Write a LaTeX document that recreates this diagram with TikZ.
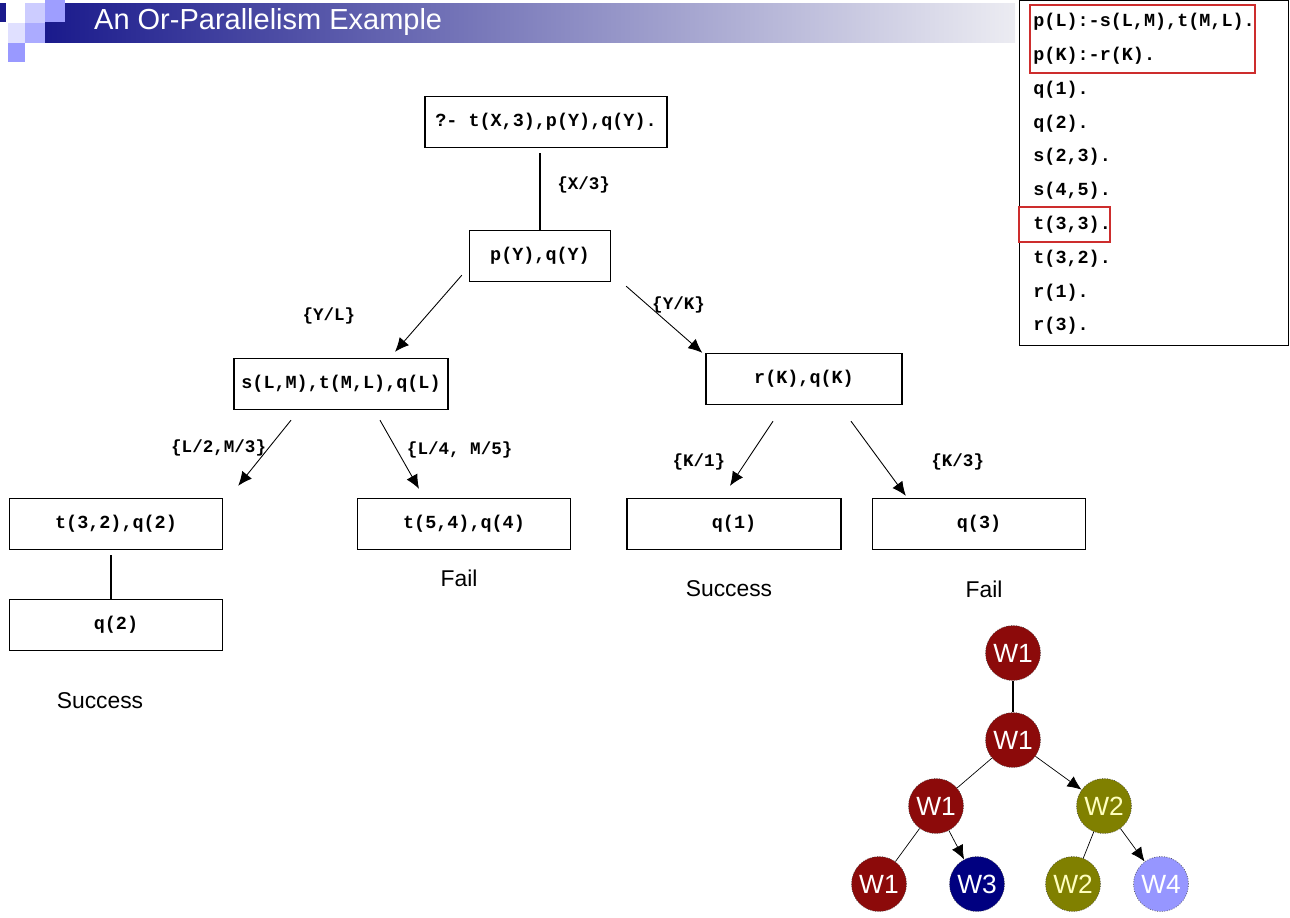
\documentclass[tikz,border=0pt]{standalone}
\usepackage{fontspec}
\setmainfont{Liberation Sans}
\newfontfamily\codefont{Liberation Mono}
\usepackage{xcolor}
\usetikzlibrary{positioning,arrows.meta}
\definecolor{barnavy}{RGB}{26,26,140}
\definecolor{barmid}{RGB}{125,125,178}
\definecolor{barend}{RGB}{236,236,242}
\definecolor{wred}{RGB}{140,10,10}
\definecolor{wolive}{RGB}{128,128,0}
\definecolor{wnavy}{RGB}{0,0,128}
\definecolor{wlight}{RGB}{150,150,255}
\definecolor{pyell}{RGB}{255,255,190}
\definecolor{markred}{RGB}{205,45,45}
\tikzset{edge/.style = {-{Latex[length=8pt,width=7pt]}, line width=0.5pt}}

\begin{document}
\begin{tikzpicture}[x=0.02cm,y=-0.02cm,
    goal/.style={draw,line width=0.8pt,minimum height=1.02cm,inner sep=2pt,
        font=\fontsize{10.5}{12}\selectfont\codefont\bfseries},
    subst/.style={font=\fontsize{10}{12}\selectfont\codefont\bfseries,inner sep=1pt},
    outcome/.style={font=\fontsize{13}{15}\selectfont},
    progline/.style={anchor=west,inner sep=0pt,font=\fontsize{10.5}{12}\selectfont\codefont\bfseries},
    worker/.style={circle,draw=black!75,densely dotted,minimum size=1.1cm,inner sep=0pt,
        text=white,font=\fontsize{15}{17}\selectfont}]
    \useasboundingbox (0,0) rectangle (1290,917);

    % title bar
    \shade[left color=barnavy,middle color=barmid,right color=barend] (45,3) rectangle (1015,42);
    \fill[barnavy] (0,3) rectangle (6,22);
    \fill[blue!20!white] (25,3) rectangle (45,23);
    \fill[blue!38!white] (45,0) rectangle (65,22);
    \fill[blue!12!white] (8,23) rectangle (25,43);
    \fill[blue!33!white] (25,23) rectangle (45,43);
    \fill[blue!40!white] (8,43) rectangle (25,62);
    \node[anchor=west,text=white,font=\fontsize{16.5}{18}\selectfont] (title) at (88,22) {An Or-Parallelism Example};

    % resolution tree
    \node[goal,minimum width=4.84cm] (query) at (546,122) {?- t(X,3),p(Y),q(Y).};
    \node[goal,minimum width=2.82cm] (py) at (540,256) {p(Y),q(Y)};
    \node[goal,minimum width=4.28cm] (slm) at (341,384) {s(L,M),t(M,L),q(L)};
    \node[goal,minimum width=3.92cm] (rk) at (804,379) {r(K),q(K)};
    \node[goal,minimum width=4.26cm] (t32) at (116,524) {t(3,2),q(2)};
    \node[goal,minimum width=4.26cm] (t54) at (464,524) {t(5,4),q(4)};
    \node[goal,minimum width=4.28cm] (q1) at (734,524) {q(1)};
    \node[goal,minimum width=4.26cm] (q3) at (979,524) {q(3)};
    \node[goal,minimum width=4.26cm] (q2) at (116,625) {q(2)};

    \draw[line width=0.6pt] ([yshift=-5*0.02cm]query.south -| py.north) -- (py.north)
        node[subst,right=0.3cm,pos=0.42] {\{X/3\}};
    \draw[edge] ([shift={(-7,-7)}]py.south west) -- ([shift={(54,-6)}]slm.north)
        node[subst,left=1.38cm,pos=0.53] {\{Y/L\}};
    \draw[edge] ([shift={(15,4)}]py.south east) -- ([shift={(-3,0)}]rk.north west)
        node[subst,right=0.05cm,pos=0.28] {\{Y/K\}};
    \draw[edge] ([shift={(-50,10)}]slm.south) -- ([shift={(15,-12)}]t32.north east)
        node[subst,left=0pt,pos=0.43] {\{L/2,M/3\}};
    \draw[edge] ([shift={(39,10)}]slm.south) -- ([shift={(-45,-9)}]t54.north)
        node[subst,right=0.16cm,pos=0.43] {\{L/4, M/5\}};
    \draw[edge] ([shift={(-31,16)}]rk.south) -- ([shift={(-4,-12)}]q1.north)
        node[subst,left=0.37cm,pos=0.63] {\{K/1\}};
    \draw[edge] ([shift={(47,16)}]rk.south) -- ([shift={(34,-2)}]q3.north west)
        node[subst,right=0.96cm,pos=0.55] {\{K/3\}};
    \draw[line width=0.6pt] ([shift={(-5,5)}]t32.south) -- ([xshift=-5*0.02cm]q2.north);

    \node[outcome] (fail1) at (459,578) {Fail};
    \node[outcome] (succ1) at (729,589) {Success};
    \node[outcome] (fail2) at (984,589) {Fail};
    \node[outcome] (succ2) at (100,701) {Success};

    % program
    \node[draw,line width=0.8pt,fill=white,anchor=north west,minimum width=5.38cm,minimum height=6.9cm] (prog) at (1019,0) {};
    \foreach \txt [count=\i] in {{p(L):-s(L,M),t(M,L).},{p(K):-r(K).},{q(1).},{q(2).},{s(2,3).},{s(4,5).},{t(3,3).},{t(3,2).},{r(1).},{r(3).}}
        \node[progline] (l\i) at (1033,{22+(\i-1)*33.8}) {\txt};
    \draw[markred,line width=0.8pt] (1030,5) rectangle (1255,73);
    \draw[markred,line width=0.8pt] (1019,207) rectangle (1110,242);

    % workers
    \node[worker,fill=wred] (w1) at (1013,653) {W1};
    \node[worker,fill=wred] (w2) at (1013,740) {W1};
    \node[worker,fill=wred] (w3) at (936,806) {W1};
    \node[worker,fill=wolive,text=pyell] (w4) at (1104,806) {W2};
    \node[worker,fill=wred] (w5) at (879,884) {W1};
    \node[worker,fill=wnavy] (w6) at (977,884) {W3};
    \node[worker,fill=wolive,text=pyell] (w7) at (1073,884) {W2};
    \node[worker,fill=wlight] (w8) at (1161,884) {W4};

    \draw[line width=0.6pt] (w1) -- (w2);
    \draw[line width=0.4pt] (w2) -- (w3);
    \draw[edge,line width=0.4pt] (w2) -- (w4);
    \draw[line width=0.4pt] (w3) -- (w5);
    \draw[edge,line width=0.4pt] (w3) -- (w6);
    \draw[line width=0.4pt] (w4) -- (w7);
    \draw[edge,line width=0.4pt] (w4) -- (w8);
\end{tikzpicture}
\end{document}
